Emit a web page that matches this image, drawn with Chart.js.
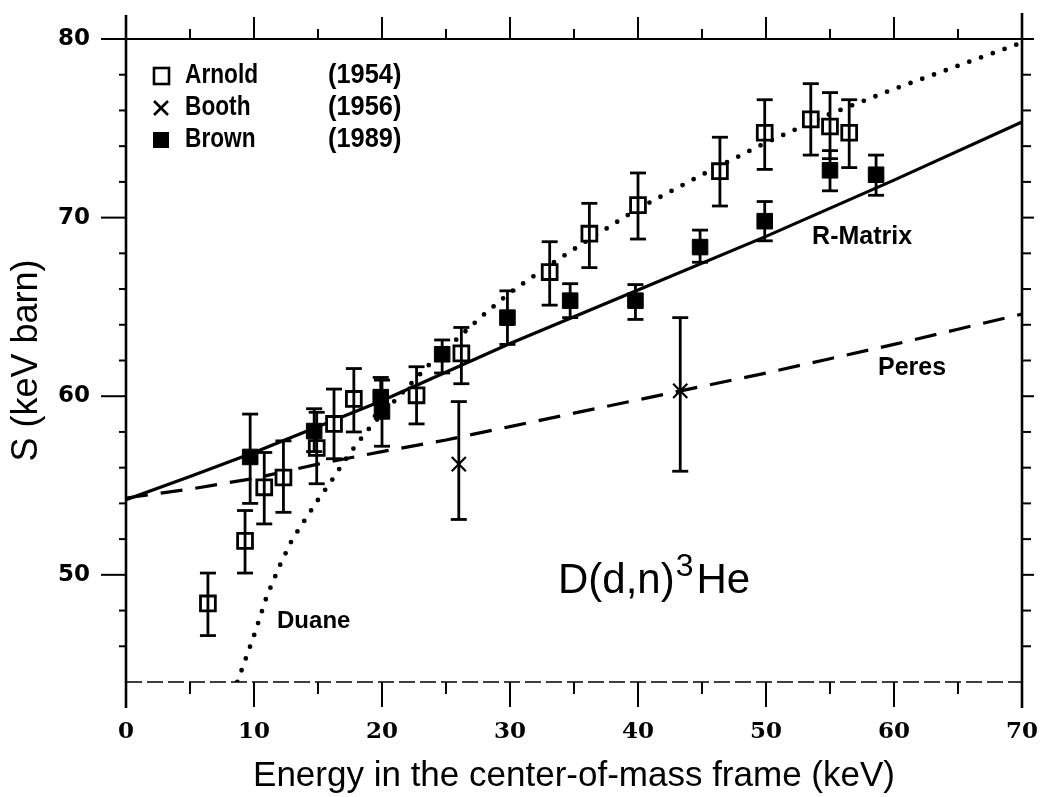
<!DOCTYPE html>
<html lang="en">
<head>
<meta charset="UTF-8">
<title>D(d,n)3He astrophysical S-factor</title>
<script src="https://cdn.jsdelivr.net/npm/chart.js@4.4.1/dist/chart.umd.min.js"></script>
<style>
  html, body { margin: 0; padding: 0; background: #fff; }
  #wrap { width: 1047px; height: 797px; }
</style>
</head>
<body>
<div id="wrap"><canvas id="sChart" width="1047" height="797"></canvas></div>
<script>
// Arnold (1954) - open squares, with error bars
const arnoldE  = [6.4, 9.3, 10.8, 12.3, 14.9, 16.25, 17.8, 22.7, 26.2, 33.1, 36.2, 40.0, 46.4, 49.9, 53.5, 55.0, 56.5];
const arnoldS  = [48.4, 51.9, 54.9, 55.45, 57.1, 58.45, 59.85, 60.05, 62.4, 66.95, 69.1, 70.7, 72.6, 74.75, 75.5, 75.1, 74.75];
const arnoldLo = [46.6, 50.1, 52.85, 53.5, 55.1, 56.5, 58.0, 58.45, 60.7, 65.1, 67.2, 68.8, 70.65, 72.7, 73.5, 73.3, 72.8];
const arnoldHi = [50.1, 53.6, 56.85, 57.5, 59.1, 60.4, 61.55, 61.65, 63.85, 68.65, 70.8, 72.5, 74.5, 76.6, 77.5, 77.0, 76.6];

// Booth (1956) - crosses
const boothE  = [26.0, 43.3];
const boothS  = [56.2, 60.3];
const boothLo = [53.1, 55.8];
const boothHi = [59.7, 64.4];

// Brown (1989) - filled squares
const brownE  = [9.7, 14.7, 19.9, 20.0, 24.7, 29.8, 34.7, 39.8, 44.85, 49.9, 55.0, 58.6];
const brownS  = [56.6, 58.05, 59.95, 59.15, 62.35, 64.4, 65.35, 65.35, 68.35, 69.8, 72.65, 72.4];
const brownLo = [54.0, 56.9, 58.9, 57.2, 61.3, 62.9, 64.4, 64.3, 67.5, 68.7, 71.5, 71.25];
const brownHi = [59.0, 59.3, 61.05, 60.9, 63.15, 65.9, 66.3, 66.25, 69.3, 70.9, 73.75, 73.5];

// theory curves
const rmatrixE = [0, 5, 10, 20, 30, 40, 50, 60, 70];
const rmatrixS = [54.2, 55.5, 56.85, 59.75, 62.95, 65.95, 68.95, 72.1, 75.35];
const peresE = [0, 5, 10, 15, 20, 25, 30, 35, 40, 45, 50, 55, 60, 65, 70];
const peresS = [54.3, 54.8, 55.4, 56.2, 56.9, 57.55, 58.3, 59.05, 59.8, 60.55, 61.3, 62.1, 62.9, 63.75, 64.6];
const duaneE = [8.7, 10, 11, 12, 13, 14, 15, 16, 17, 18, 19, 20, 22, 24, 26, 28, 30, 33, 36, 40, 45, 50, 55, 60, 65, 70];
const duaneS = [44.0, 46.6, 48.8, 50.5, 52.0, 53.1, 54.2, 55.2, 56.3, 57.3, 58.2, 59.0, 60.5, 62.0, 63.3, 64.6, 65.8, 67.3, 68.7, 70.5, 72.4, 74.2, 75.8, 77.2, 78.5, 79.8];

// axes
const xTicks = [0, 10, 20, 30, 40, 50, 60, 70];
const xMinor = [5, 15, 25, 35, 45, 55, 65];
const yTicks = [50, 60, 70, 80];
const yMinor = [46, 48, 52, 54, 56, 58, 62, 64, 66, 68, 72, 74, 76, 78];

function pts(e, s) {
    return e.map((v, i) => ({x: v, y: s[i]}));
}

function seg(ctx, x1, y1, x2, y2) {
    ctx.beginPath();
    ctx.moveTo(x1, y1);
    ctx.lineTo(x2, y2);
    ctx.stroke();
}

// text squeezed horizontally, the figure uses a condensed face
function narrowText(ctx, text, x, y, sx) {
    ctx.save();
    ctx.translate(x, y);
    ctx.scale(sx, 1);
    ctx.fillText(text, 0, 0);
    ctx.restore();
}

function errorBars(ctx, x, y, e, lo, hi) {
    ctx.lineWidth = 2.8;
    for (let i = 0; i < e.length; i++) {
        const px = x.getPixelForValue(e[i]);
        const p1 = y.getPixelForValue(lo[i]);
        const p2 = y.getPixelForValue(hi[i]);
        seg(ctx, px, p1, px, p2);
        seg(ctx, px - 8, p1, px + 8, p1);
        seg(ctx, px - 8, p2, px + 8, p2);
    }
}

function noPad(s) {
    s.paddingLeft = 0;
    s.paddingRight = 0;
    s.paddingTop = 0;
    s.paddingBottom = 0;
}

const framePlugin = {
    id: 'frame',
    afterDatasetsDraw(chart) {
        const {ctx, chartArea: a, scales: {x, y}} = chart;
        ctx.save();
        ctx.strokeStyle = '#000';
        ctx.fillStyle = '#000';

        errorBars(ctx, x, y, arnoldE, arnoldLo, arnoldHi);
        errorBars(ctx, x, y, brownE, brownLo, brownHi);
        errorBars(ctx, x, y, boothE, boothLo, boothHi);

        // box
        ctx.lineWidth = 2.6;
        seg(ctx, a.left, a.top - 24, a.left, a.bottom + 26);
        seg(ctx, a.right, a.top - 26, a.right, a.bottom + 26);
        ctx.lineWidth = 2;
        seg(ctx, a.left, a.top, a.right, a.top);
        ctx.lineWidth = 1.4;
        ctx.setLineDash([16, 5]);
        seg(ctx, a.left, a.bottom, a.right, a.bottom);
        ctx.setLineDash([]);

        // ticks
        ctx.lineWidth = 2;
        xTicks.forEach(v => {
            const px = x.getPixelForValue(v);
            seg(ctx, px, a.top, px, a.top - 22);
            seg(ctx, px, a.bottom, px, a.bottom + 25);
        });
        xMinor.forEach(v => {
            const px = x.getPixelForValue(v);
            seg(ctx, px, a.top, px, a.top - 10);
            seg(ctx, px, a.bottom, px, a.bottom + 12);
        });
        yTicks.forEach(v => {
            const py = y.getPixelForValue(v);
            seg(ctx, a.left, py, a.left - 25, py);
            seg(ctx, a.right, py, a.right + 12, py);
        });
        yMinor.forEach(v => {
            const py = y.getPixelForValue(v);
            seg(ctx, a.left, py, a.left - 7, py);
            seg(ctx, a.right, py, a.right + 9, py);
        });

        // legend
        const lx = a.left + 35;
        ctx.lineWidth = 2.6;
        ctx.strokeRect(lx - 7, 76 - 8, 15, 16);
        seg(ctx, lx - 7, 108 - 7, lx + 7, 108 + 7);
        seg(ctx, lx - 7, 108 + 7, lx + 7, 108 - 7);
        ctx.fillRect(lx - 8, 140 - 8, 16, 16);
        ctx.font = 'bold 27px "Liberation Sans"';
        ctx.textBaseline = 'middle';
        ctx.textAlign = 'left';
        [['Arnold', '(1954)', 76], ['Booth', '(1956)', 108], ['Brown', '(1989)', 140]].forEach(r => {
            narrowText(ctx, r[0], lx + 24, r[2], 0.84);
            narrowText(ctx, r[1], lx + 167, r[2], 0.94);
        });

        // curve labels
        ctx.font = 'bold 24px "Liberation Sans"';
        ctx.fillText('Duane', x.getPixelForValue(11.8), y.getPixelForValue(47.4));
        ctx.font = 'bold 25px "Liberation Sans"';
        ctx.fillText('R-Matrix', x.getPixelForValue(53.6), y.getPixelForValue(68.9));
        ctx.fillText('Peres', x.getPixelForValue(58.75), y.getPixelForValue(61.6));

        // reaction
        const rx = x.getPixelForValue(33.75);
        const ry = y.getPixelForValue(49.0);
        ctx.textBaseline = 'alphabetic';
        ctx.font = '42px "Liberation Sans"';
        ctx.fillText('D(d,n)', rx, ry);
        const w1 = ctx.measureText('D(d,n)').width;
        ctx.font = '32px "Liberation Sans"';
        ctx.fillText('3', rx + w1 + 1, ry - 17);
        const w2 = ctx.measureText('3').width;
        ctx.font = '42px "Liberation Sans"';
        ctx.fillText('He', rx + w1 + w2 + 4, ry);
        ctx.restore();
    }
};

new Chart(document.getElementById('sChart'), {
    type: 'scatter',
    data: {
        datasets: [
            {
                label: 'Arnold (1954)',
                data: pts(arnoldE, arnoldS),
                pointStyle: 'rect',
                pointRadius: 10.5,
                pointBorderWidth: 2.8,
                pointBorderColor: '#000',
                pointBackgroundColor: '#fff'
            },
            {
                label: 'Booth (1956)',
                data: pts(boothE, boothS),
                pointStyle: 'crossRot',
                pointRadius: 10,
                pointBorderWidth: 2.2,
                pointBorderColor: '#000'
            },
            {
                label: 'Brown (1989)',
                data: pts(brownE, brownS),
                pointStyle: 'rect',
                pointRadius: 11,
                pointBorderWidth: 1,
                pointBorderColor: '#000',
                pointBackgroundColor: '#000'
            },
            {
                label: 'R-Matrix',
                data: pts(rmatrixE, rmatrixS),
                showLine: true,
                pointRadius: 0,
                borderColor: '#000',
                borderWidth: 3.2
            },
            {
                label: 'Peres',
                data: pts(peresE, peresS),
                showLine: true,
                pointRadius: 0,
                borderColor: '#000',
                borderWidth: 3.2,
                borderDash: [22, 13]
            },
            {
                label: 'Duane',
                data: pts(duaneE, duaneS),
                showLine: true,
                pointRadius: 0,
                borderColor: '#000',
                borderWidth: 4.8,
                borderCapStyle: 'round',
                borderDash: [0, 12.5]
            }
        ]
    },
    options: {
        responsive: false,
        animation: false,
        devicePixelRatio: 1,
        layout: { padding: {left: 0, top: 39, right: 25, bottom: 0} },
        plugins: {
            legend: { display: false },
            tooltip: { enabled: false }
        },
        scales: {
            x: {
                type: 'linear',
                min: 0,
                max: 70,
                afterBuildTicks: s => { s.ticks = xTicks.map(v => ({value: v})); },
                afterFit: s => { s.height = 115; noPad(s); },
                grid: { display: false, drawTicks: false },
                border: { display: false },
                ticks: {
                    padding: 36,
                    color: '#000',
                    maxRotation: 0,
                    font: { family: '"DejaVu Serif"', size: 23, weight: 'bold' }
                },
                title: {
                    display: true,
                    text: 'Energy in the center-of-mass frame (keV)',
                    color: '#000',
                    padding: {top: 0, bottom: 0},
                    font: { family: '"Liberation Sans"', size: 35 }
                }
            },
            y: {
                type: 'linear',
                min: 44,
                max: 80,
                afterBuildTicks: s => { s.ticks = yTicks.map(v => ({value: v})); },
                afterFit: s => { s.width = 126; noPad(s); },
                grid: { display: false, drawTicks: false },
                border: { display: false },
                ticks: {
                    padding: 36,
                    color: '#000',
                    font: { family: '"DejaVu Sans"', size: 23, weight: 'bold' }
                },
                title: {
                    display: true,
                    text: 'S (keV barn)',
                    color: '#000',
                    padding: {top: 5, bottom: 0},
                    font: { family: '"Liberation Sans"', size: 36 }
                }
            }
        }
    },
    plugins: [framePlugin]
});
</script>
</body>
</html>
